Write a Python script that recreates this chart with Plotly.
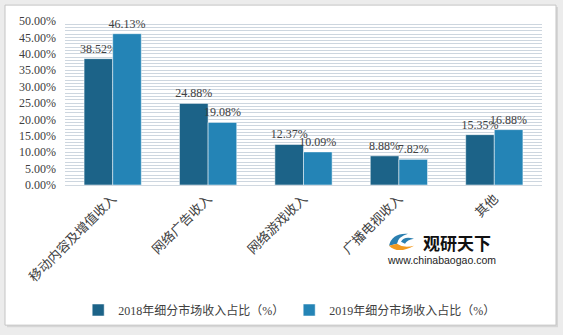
import plotly.graph_objects as go

categories = ["移动内容及增值收入", "网络广告收入", "网络游戏收入", "广播电视收入", "其他"]
values_2018 = [38.52, 24.88, 12.37, 8.88, 15.35]
values_2019 = [46.13, 19.08, 10.09, 7.82, 16.88]
series_names = ["2018年细分市场收入占比（%）", "2019年细分市场收入占比（%）"]
tick_vals = [0, 5, 10, 15, 20, 25, 30, 35, 40, 45, 50]
tick_text = [f"{v:.2f}%" for v in tick_vals]

W, H = 563, 335
L, R, T, B = 65, 21, 21, 149
pw, ph = W - L - R, H - T - B

def px_x(x):
    return (x - L) / pw

def px_y(y):
    return (H - B - y) / ph

FONT = "Liberation Serif, Noto Sans CJK SC, serif"

fig = go.Figure()
fig.add_trace(go.Bar(
    x=categories, y=values_2018, name=series_names[0],
    marker=dict(color="#1c6388", line=dict(color="rgba(255,255,255,0.5)", width=1)),
    text=[f"{v:.2f}%" for v in values_2018], textposition="outside", constraintext="none",
    textfont=dict(size=12, color="#404040", family=FONT), cliponaxis=False,
))
fig.add_trace(go.Bar(
    x=categories, y=values_2019, name=series_names[1],
    marker=dict(color="#2484b6", line=dict(color="rgba(255,255,255,0.5)", width=1)),
    text=[f"{v:.2f}%" for v in values_2019], textposition="outside", constraintext="none",
    textfont=dict(size=12, color="#404040", family=FONT), cliponaxis=False,
))

shapes = [
    dict(type="rect", xref="paper", yref="paper", layer="below",
         x0=px_x(7), x1=px_x(558), y0=px_y(329), y1=px_y(7),
         fillcolor="#d6d6d6", line=dict(width=0)),
    dict(type="rect", xref="paper", yref="paper", layer="below",
         x0=px_x(5), x1=px_x(556), y0=px_y(327), y1=px_y(5),
         fillcolor="white", line=dict(color="#c4c4c4", width=1)),
    dict(type="path", xref="paper", yref="paper",
         path=f"M {px_x(389)},{px_y(247)} Q {px_x(392)},{px_y(234)} {px_x(408)},{px_y(235)} Q {px_x(398)},{px_y(238)} {px_x(397)},{px_y(245)} Z",
         fillcolor="#2b7fb0", line=dict(width=0)),
    dict(type="path", xref="paper", yref="paper",
         path=f"M {px_x(389)},{px_y(247)} Q {px_x(398)},{px_y(256)} {px_x(414)},{px_y(247)} Q {px_x(404)},{px_y(250)} {px_x(397)},{px_y(245)} Z",
         fillcolor="#f39a1e", line=dict(width=0)),
    dict(type="path", xref="paper", yref="paper",
         path=f"M {px_x(401)},{px_y(243)} Q {px_x(404)},{px_y(237)} {px_x(414)},{px_y(240)} Q {px_x(407)},{px_y(241)} {px_x(405)},{px_y(245)} Z",
         fillcolor="#2b7fb0", line=dict(width=0)),
]

annotations = [
    dict(text="<b>观研天下</b>", xref="paper", yref="paper", x=px_x(457), y=px_y(244),
         xanchor="center", yanchor="middle", showarrow=False,
         font=dict(size=17, color="#111111", family="Noto Sans CJK SC")),
    dict(text="www.chinabaogao.com", xref="paper", yref="paper", x=px_x(441), y=px_y(261),
         xanchor="center", yanchor="middle", showarrow=False,
         font=dict(size=10.5, color="#222222", family="Liberation Sans, Arial")),
]

fig.update_layout(
    width=W, height=H,
    margin=dict(l=L, r=R, t=T, b=B),
    paper_bgcolor="#ececec",
    plot_bgcolor="white",
    barmode="group", bargap=0.4, bargroupgap=0.0,
    showlegend=True,
    legend=dict(orientation="h", x=0.47, xanchor="center", y=px_y(310), yanchor="middle",
                font=dict(size=12, color="#404040", family=FONT),
                itemwidth=30, traceorder="normal", bgcolor="rgba(0,0,0,0)"),
    shapes=shapes,
    annotations=annotations,
    xaxis=dict(tickangle=-45, tickfont=dict(size=13, color="#404040", family="Noto Sans CJK SC"),
               showline=True, linecolor="#d0d8e0", linewidth=1, ticks=""),
    yaxis=dict(range=[0, 50], tickvals=tick_vals, ticktext=tick_text,
               tickfont=dict(size=12, color="#404040", family=FONT),
               showgrid=True, gridcolor="#cdd6df", gridwidth=1.2,
               minor=dict(dtick=1, showgrid=True, gridcolor="#cdd6df", gridwidth=1.2),
               zeroline=False, showline=False, ticklabelstandoff=8),
)

fig.write_html("out.html")
